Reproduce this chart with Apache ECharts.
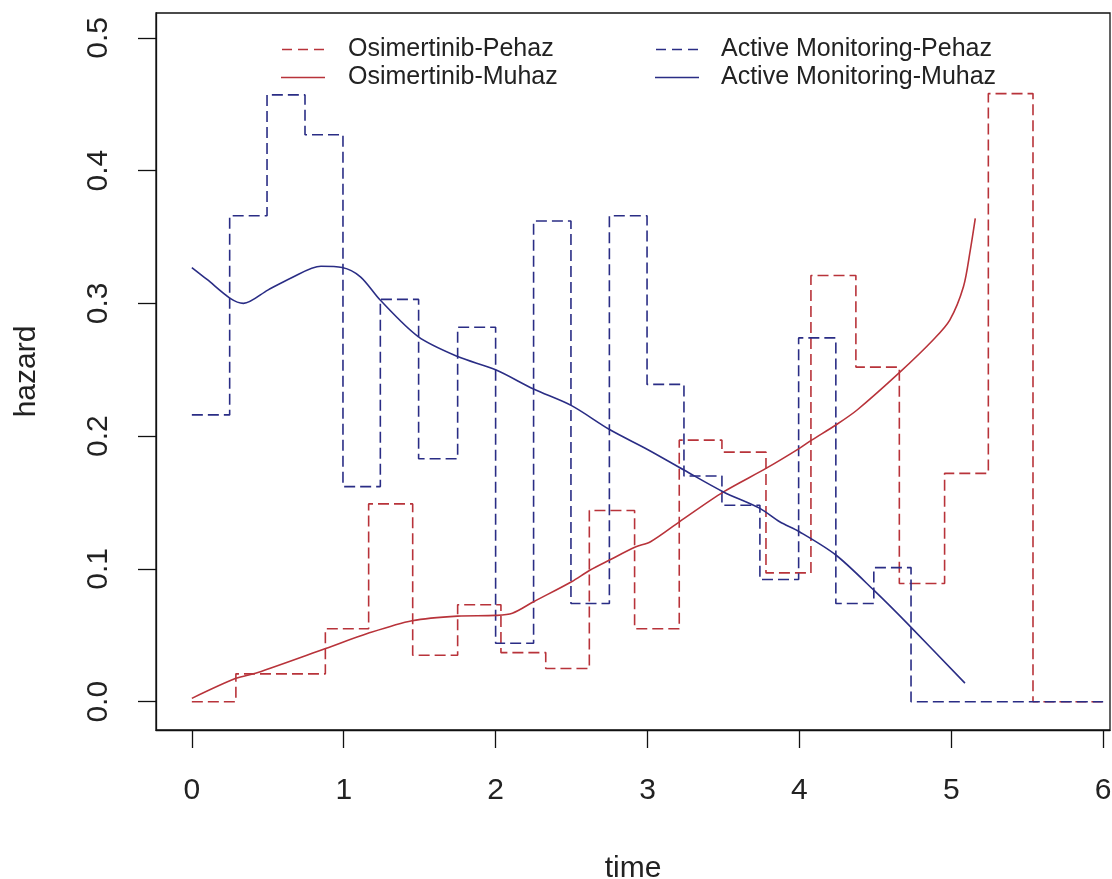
<!DOCTYPE html>
<html>
<head>
<meta charset="utf-8">
<title>hazard</title>
<script src="https://cdn.jsdelivr.net/npm/echarts@6/dist/echarts.min.js"></script>
<style>
  html, body { margin: 0; padding: 0; background: #fff; }
  #main { width: 1112px; height: 879px; }
</style>
</head>
<body>
<div id="main"></div>
<script>
// piecewise hazard (step start times, value held until next start)
var osBreaks = [0, 0.29, 0.879, 1.164, 1.454, 1.75, 2.035, 2.33, 2.617, 2.915, 3.209, 3.49, 3.78, 4.076, 4.372, 4.658, 4.956, 5.244, 5.538, 6.0];
var osPehaz  = [0.0, 0.021, 0.055, 0.149, 0.035, 0.073, 0.037, 0.025, 0.144, 0.055, 0.197, 0.188, 0.097, 0.321, 0.252, 0.089, 0.172, 0.458, 0.0, 0.0];

var amBreaks = [0, 0.249, 0.495, 0.745, 0.995, 1.241, 1.493, 1.75, 2.0, 2.25, 2.496, 2.749, 2.997, 3.24, 3.49, 3.74, 3.995, 4.24, 4.49, 4.735, 6.0];
var amPehaz  = [0.216, 0.366, 0.457, 0.427, 0.162, 0.303, 0.183, 0.282, 0.044, 0.362, 0.074, 0.366, 0.239, 0.170, 0.148, 0.092, 0.274, 0.074, 0.101, 0.0, 0.0];

// smoothed hazard (muhaz)
var osMuhazT = [0, 0.29, 0.43, 0.88, 1.16, 1.45, 1.75, 2.0, 2.11, 2.25, 2.5, 2.62, 2.75, 2.92, 3.02, 3.21, 3.5, 3.78, 4.0, 4.08, 4.24, 4.38, 4.66, 4.88, 4.99, 5.08, 5.125, 5.158];
var osMuhaz  = [0.0025, 0.0176, 0.0218, 0.040, 0.0515, 0.061, 0.0645, 0.065, 0.0666, 0.0753, 0.0904, 0.099, 0.1067, 0.1165, 0.1205, 0.1355, 0.158, 0.1757, 0.1908, 0.197, 0.2084, 0.2197, 0.248, 0.2724, 0.2874, 0.3125, 0.340, 0.364];

var amMuhazT = [0, 0.1, 0.25, 0.34, 0.5, 0.65, 0.85, 0.99, 1.11, 1.24, 1.49, 1.75, 2.0, 2.25, 2.5, 2.75, 3.0, 3.24, 3.5, 3.74, 3.87, 4.0, 4.24, 4.49, 4.71, 5.09];
var amMuhaz  = [0.327, 0.318, 0.304, 0.300, 0.310, 0.319, 0.328, 0.327, 0.320, 0.3025, 0.275, 0.260, 0.250, 0.2355, 0.223, 0.205, 0.190, 0.1745, 0.158, 0.1456, 0.1355, 0.128, 0.1105, 0.084, 0.059, 0.014];

var xTicks = [0, 1, 2, 3, 4, 5, 6];
var yTicks = [0, 0.1, 0.2, 0.3, 0.4, 0.5];

var RED = '#b8333a';
var BLUE = '#2a2d85';
var FONT = '"Liberation Sans", Arial, sans-serif';

// legend key glyphs like R's lty=2 / lty=1
var DASH_ICON = 'path://M0,0h10v1.6h-10z M16,0h10v1.6h-10z M32,0h10v1.6h-10z';
var SOLID_ICON = 'path://M0,0h46v1.6h-46z';

function pairs(xs, ys) {
  return xs.map(function (x, i) { return [x, ys[i]]; });
}

var chart = echarts.init(document.getElementById('main'));
var option = {
  animation: false,
  backgroundColor: '#fff',
  grid: {
    left: 156, right: 2, top: 13, bottom: 149,
    outerBoundsMode: 'none',
    show: true, borderColor: '#111', borderWidth: 1.3, backgroundColor: 'transparent'
  },
  legend: [
    {
      data: [
        { name: 'Osimertinib-Pehaz', icon: DASH_ICON },
        { name: 'Osimertinib-Muhaz', icon: SOLID_ICON }
      ],
      orient: 'vertical', left: 276, top: 32, itemGap: 3,
      itemWidth: 44, itemHeight: 1.6,
      textStyle: { fontFamily: FONT, fontSize: 25, color: '#222', lineHeight: 25, padding: [0, 0, 0, 18] }
    },
    {
      data: [
        { name: 'Active Monitoring-Pehaz', icon: DASH_ICON },
        { name: 'Active Monitoring-Muhaz', icon: SOLID_ICON }
      ],
      orient: 'vertical', left: 650, top: 32, itemGap: 3,
      itemWidth: 44, itemHeight: 1.6,
      textStyle: { fontFamily: FONT, fontSize: 25, color: '#222', lineHeight: 25, padding: [0, 0, 0, 17] }
    }
  ],
  xAxis: {
    type: 'value', min: -0.236, max: 6.045,
    name: 'time', nameLocation: 'middle', nameGap: 124,
    nameTextStyle: { fontFamily: FONT, fontSize: 30, color: '#222' },
    axisLine: { show: true, onZero: false, lineStyle: { color: '#111', width: 1.3 } },
    axisTick: { show: true, length: 18, lineStyle: { color: '#111', width: 1.3 }, customValues: xTicks },
    axisLabel: { fontFamily: FONT, fontSize: 30, color: '#222', margin: 46, customValues: xTicks, showMinLabel: true, showMaxLabel: true },
    splitLine: { show: false }
  },
  yAxis: {
    type: 'value', min: -0.0213, max: 0.5187,
    name: 'hazard', nameLocation: 'middle', nameGap: 114,
    nameTextStyle: { fontFamily: FONT, fontSize: 30, color: '#222' },
    axisLine: { show: true, onZero: false, lineStyle: { color: '#111', width: 1.3 } },
    axisTick: { show: true, length: 18, lineStyle: { color: '#111', width: 1.3 }, customValues: yTicks },
    axisLabel: {
      fontFamily: FONT, fontSize: 30, color: '#222', margin: 42, rotate: 90,
      customValues: yTicks,
      formatter: function (v) { return v.toFixed(1); }
    },
    splitLine: { show: false }
  },
  series: [
    {
      name: 'Osimertinib-Pehaz', type: 'line', step: 'end', symbol: 'none',
      data: pairs(osBreaks, osPehaz),
      lineStyle: { color: RED, width: 1.6, type: [11, 5] },
      itemStyle: { color: RED }
    },
    {
      name: 'Active Monitoring-Pehaz', type: 'line', step: 'end', symbol: 'none',
      data: pairs(amBreaks, amPehaz),
      lineStyle: { color: BLUE, width: 1.6, type: [11, 5] },
      itemStyle: { color: BLUE }
    },
    {
      name: 'Osimertinib-Muhaz', type: 'line', symbol: 'none', smooth: 0.3,
      data: pairs(osMuhazT, osMuhaz),
      lineStyle: { color: RED, width: 1.6 },
      itemStyle: { color: RED }
    },
    {
      name: 'Active Monitoring-Muhaz', type: 'line', symbol: 'none', smooth: 0.3,
      data: pairs(amMuhazT, amMuhaz),
      lineStyle: { color: BLUE, width: 1.6 },
      itemStyle: { color: BLUE }
    }
  ]
};
chart.setOption(option);
</script>
</body>
</html>
